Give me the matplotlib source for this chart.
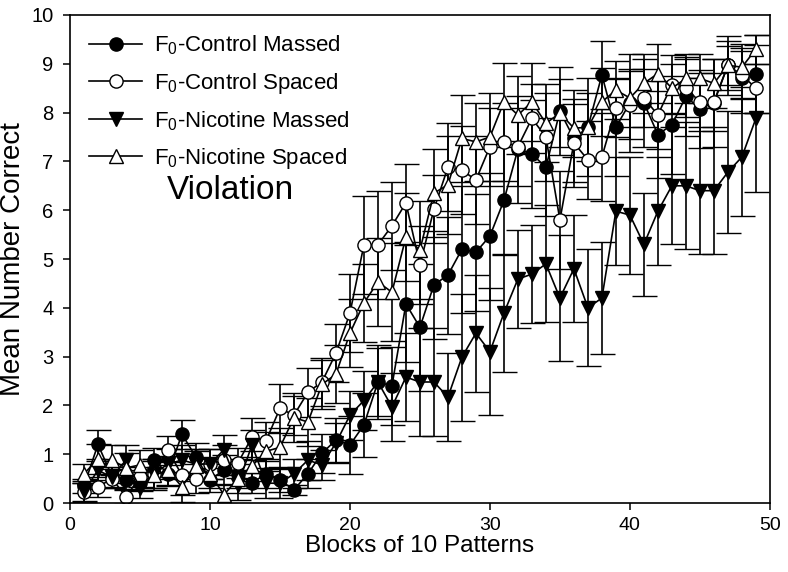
import matplotlib
matplotlib.use("Agg")
import matplotlib.pyplot as plt
from matplotlib.lines import Line2D
import numpy as np

plt.rcParams['font.family'] = ['Liberation Sans', 'DejaVu Sans']
plt.rcParams['mathtext.default'] = 'regular'

blocks = np.arange(1, 50)

ctrl_massed = [0.35, 1.2, 0.55, 0.47, 0.4, 0.88, 0.6, 1.41, 0.94, 0.47, 0.68, 0.6, 0.41, 0.6, 0.47, 0.27, 0.6,
               1.02, 1.29, 1.19, 1.6, 2.48, 2.4, 4.08, 3.6, 4.47, 4.67, 5.2, 5.14, 5.47, 6.2,
               7.25, 7.15, 6.88, 8.03, 7.47, 7.7, 8.77, 7.7, 8.2, 8.2, 7.55, 7.75, 8.33, 8.08, 8.2, 8.97, 8.7, 8.8]
ctrl_massed_err = [0.15, 0.3, 0.25, 0.2, 0.15, 0.25, 0.25, 0.3, 0.3, 0.25, 0.3, 0.3, 0.2, 0.3, 0.25, 0.1, 0.3,
                   0.4, 0.45, 0.6, 0.65, 0.75, 0.8, 1.2, 1.3, 1.1, 1.2, 1.3, 1.2, 1.3, 1.1,
                   1.1, 1.1, 1.0, 0.9, 1.0, 1.0, 0.7, 1.0, 1.0, 0.9, 0.9, 1.0, 0.8, 0.8, 0.9, 0.6, 0.7, 0.8]

ctrl_spaced = [0.22, 0.33, 0.5, 0.13, 0.53, 0.6, 1.08, 0.57, 0.5, 0.8, 0.88, 0.82, 1.35, 1.27, 1.94, 1.8, 2.27,
               2.48, 3.07, 3.89, 5.29, 5.29, 5.68, 6.15, 4.88, 6.02, 6.88, 6.82, 6.62, 7.3, 7.4,
               7.3, 7.88, 7.5, 5.8, 7.38, 7.03, 7.09, 8.09, 8.15, 8.3, 7.95, 8.57, 8.5, 8.22, 8.22, 8.97, 8.77, 8.5]
ctrl_spaced_err = [0.2, 0.2, 0.2, 0.15, 0.2, 0.3, 0.3, 0.4, 0.3, 0.3, 0.3, 0.3, 0.4, 0.4, 0.5, 0.4, 0.5,
                   0.5, 0.6, 0.8, 1.0, 1.1, 0.9, 0.8, 0.8, 0.7, 0.9, 0.9, 0.9, 0.8, 0.8,
                   0.8, 0.7, 0.9, 1.0, 0.8, 0.8, 0.9, 0.6, 0.7, 0.6, 0.7, 0.6, 0.6, 0.6, 0.6, 0.5, 0.5, 0.5]

nic_massed = [0.25, 0.67, 0.53, 0.88, 0.31, 0.6, 0.8, 0.88, 0.8, 0.8, 1.09, 0.37, 1.19, 0.41, 0.4, 0.6, 0.88,
              0.78, 1.23, 1.8, 2.1, 2.48, 1.97, 2.58, 2.48, 2.48, 2.17, 2.99, 3.48, 3.1, 3.89,
              4.59, 4.69, 4.9, 4.2, 4.8, 4.0, 4.2, 5.98, 5.9, 5.3, 5.98, 6.5, 6.5, 6.4, 6.4, 6.78, 7.09, 7.88]
nic_massed_err = [0.2, 0.2, 0.2, 0.3, 0.2, 0.3, 0.3, 0.3, 0.3, 0.3, 0.3, 0.3, 0.3, 0.3, 0.3, 0.3, 0.4,
                  0.3, 0.4, 0.5, 0.6, 0.7, 0.7, 0.9, 1.1, 1.1, 0.9, 1.3, 1.2, 1.3, 1.2,
                  1.0, 1.0, 1.2, 1.3, 1.1, 1.2, 1.15, 1.1, 1.2, 1.05, 1.1, 1.2, 1.3, 1.3, 1.3, 1.25, 1.2, 1.5]

nic_spaced = [0.6, 0.9, 0.88, 0.72, 0.78, 0.57, 0.67, 0.33, 0.76, 0.6, 0.17, 0.5, 0.76, 1.06, 1.14, 1.75, 1.66,
              2.43, 2.64, 3.48, 4.1, 4.53, 4.32, 5.45, 5.18, 6.35, 6.52, 7.47, 7.4, 7.5, 8.22,
              7.95, 8.22, 7.78, 7.99, 7.68, 7.7, 8.22, 8.46, 8.3, 8.6, 8.8, 8.5, 8.7, 8.7, 8.6, 8.97, 8.93, 9.3]
nic_spaced_err = [0.2, 0.3, 0.3, 0.3, 0.3, 0.3, 0.3, 0.3, 0.3, 0.3, 0.2, 0.3, 0.3, 0.4, 0.4, 0.5, 0.5,
                  0.5, 0.6, 0.7, 0.8, 0.9, 1.0, 0.9, 1.0, 0.9, 1.0, 0.9, 0.8, 0.9, 0.8,
                  0.8, 0.8, 0.8, 0.7, 0.6, 0.7, 0.7, 0.6, 0.6, 0.6, 0.6, 0.5, 0.5, 0.5, 0.5, 0.4, 0.4, 0.3]

labels = ['F$_0$-Control Massed', 'F$_0$-Control Spaced', 'F$_0$-Nicotine Massed', 'F$_0$-Nicotine Spaced']

fig = plt.figure(figsize=(7.88, 5.72), dpi=100)
ax = fig.add_axes([0.0888, 0.1206, 0.8882, 0.8532])

series = [
    (ctrl_massed, ctrl_massed_err, 'o', 'black'),
    (ctrl_spaced, ctrl_spaced_err, 'o', 'white'),
    (nic_massed, nic_massed_err, 'v', 'black'),
    (nic_spaced, nic_spaced_err, '^', 'white'),
]

handles = []
for (vals, err, mk, fc), lab in zip(series, labels):
    ax.errorbar(blocks, vals, yerr=err, color='black', lw=1.2, elinewidth=1.2, capsize=9,
                capthick=1.2, marker=mk, ms=9.5, mfc=fc, mec='black', mew=1.0)
    handles.append(Line2D([], [], color='black', lw=1.2, marker=mk, ms=9.5, mfc=fc, mec='black'))

# legend sits top-left inside the axes, no frame
leg = ax.legend(handles, labels, loc='upper left', frameon=False, fontsize=16,
                handlelength=2.4, handletextpad=0.55, labelspacing=0.6,
                borderaxespad=0.5, borderpad=0.35)

ax.text(6.9, 6.4, 'Violation', fontsize=24, va='center', ha='left')

ax.set_xlim(0, 50)
ax.set_ylim(0, 10)
ax.set_xticks([0, 10, 20, 30, 40, 50])
ax.set_yticks(range(0, 11))
ax.tick_params(direction='out', labelsize=14.5, length=5, width=1.1)
ax.tick_params(axis='x', labelsize=14, pad=5)
ax.tick_params(axis='y', pad=7)
ax.set_xlabel('Blocks of 10 Patterns', fontsize=17.5, labelpad=1)
ax.set_ylabel('Mean Number Correct', fontsize=20, labelpad=4)
for s in ax.spines.values():
    s.set_linewidth(1.2)

fig.savefig('out.png', dpi=100)
